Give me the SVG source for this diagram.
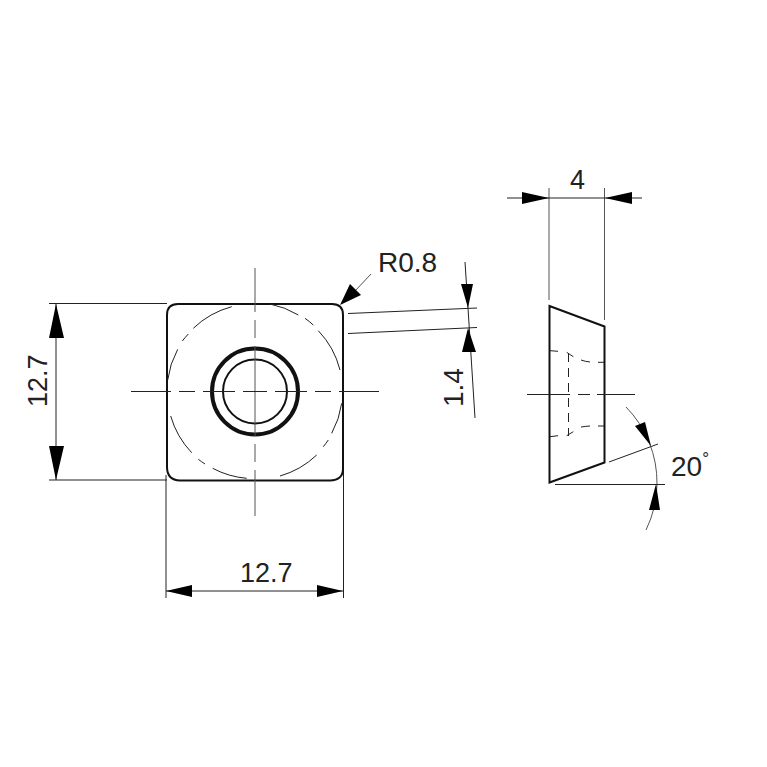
<svg xmlns="http://www.w3.org/2000/svg" width="767" height="767" viewBox="0 0 767 767">
<style>
.o{fill:none;stroke:#111;stroke-width:2}
.t{fill:none;stroke:#222;stroke-width:1}
.c{fill:none;stroke:#555;stroke-width:1}
.d{fill:none;stroke:#222;stroke-width:1;stroke-dasharray:9 6}
.a{fill:#000;stroke:none}
text{font-family:"Liberation Sans",Arial,sans-serif;font-size:27px;fill:#222}
</style>
<rect width="767" height="767" fill="#fff"/>
<g id="connectors">
<path class="t" d="M49 303.500H167M49 480H167M166 475V598M343.500 320V598"/>
<path class="t" d="M56 304V480M166 591H343"/>
<path class="a" d="M56 304L49 338H64ZM56 480L49 446H64ZM166 591L192 585V597ZM343 591L317 585V597Z"/>
<path class="c" d="M371 274L355 291"/>
<path class="a" d="M340 305L350 284L361 295Z"/>
<path class="t" d="M348 313.500L477 308M348 333.500L477 327.500"/>
<path class="t" d="M465 262L468 308L475 418"/>
<path class="a" d="M468 308L461 284H473ZM468 328L462 352H476Z"/>
<path class="c" d="M549 188V300M604.500 188V320"/>
<path class="t" d="M507 198H642"/>
<path class="a" d="M549 198L522 192V204ZM605 198L632 192V204Z"/>
<path class="c" d="M626 407A108 108 0 0 1 657 484M657 484A108 108 0 0 1 646 530"/>
<path class="t" d="M609 462L658 444M555 484.500H665"/>
<path class="a" d="M651 446L635 426L645 422ZM656 484L649 510H660Z"/>
</g>
<g id="front-view">
<path class="o" d="M178 304H332Q343 304 343 315V469Q343 480 330 480.500H180Q167 480 167 467V315Q167 304 178 304Z"/>
<path class="t" d="M270 304A88 88 0 0 1 298.300 315M305 318.300A88 88 0 0 1 313.300 325M318.300 330.700A88 88 0 0 1 340 370M341.700 403.300A88 88 0 0 1 331.700 433.300M328.300 440A88 88 0 0 1 323.300 446.700M316.700 455A88 88 0 0 1 280 476M246.700 478.300A88 88 0 0 1 212.700 468.300M205 464A88 88 0 0 1 198.300 459.300M191.700 452.700A88 88 0 0 1 170.700 416M167.700 380A88 88 0 0 1 177.700 349.300M182.300 341A88 88 0 0 1 188.300 334M193.300 328.300A88 88 0 0 1 231.700 306.700"/>
<circle cx="255" cy="391.500" r="43" fill="none" stroke="#111" stroke-width="4"/>
<circle cx="255" cy="391.500" r="32" fill="none" stroke="#111" stroke-width="2"/>
<path class="c" d="M255 268V312M255 320V338M255 346V436M255 444V462M255 470V516"/>
<path class="t" d="M131 391.500H171M179 391.500H195M203 391.500H235M243 391.500H267M275 391.500H307M315 391.500H331M339 391.500H379"/>
</g>
<g id="side-view">
<path class="o" d="M549.500 306L604.500 326.500V462.500L549.500 482.500Z"/>
<path class="t" d="M527 394.500H570M578 394.500H590M597 394.500H635"/>
<path class="d" d="M568.500 353V436"/>
<path class="t" d="M550 350.700L558 351.300M566.700 352.300L573.300 356.700M581 360Q585 361.500 590 362M598 362.300H604M550 436.700L558 435.700M566.700 435.700L573.300 431.700M581 427Q585 426.300 590 426M598 426H604"/>
</g>
<g id="labels">
<text x="378" y="272" style="font-size:28px">R0.8</text>
<text x="570" y="189">4</text>
<text x="240" y="582">12.7</text>
<text x="47" y="407" transform="rotate(-90 47 407)">12.7</text>
<text x="463" y="407" transform="rotate(-90 463 407)" style="font-size:28px">1.4</text>
<text x="671" y="476" style="font-size:28px">20<tspan dy="-12" style="font-size:17px">°</tspan></text>
</g>
</svg>
